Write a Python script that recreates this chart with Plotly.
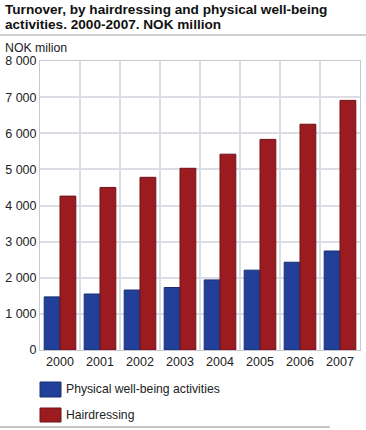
import plotly.graph_objects as go

years = ["2000", "2001", "2002", "2003", "2004", "2005", "2006", "2007"]
physical = [1470, 1550, 1660, 1730, 1940, 2210, 2430, 2740]
hairdressing = [4260, 4500, 4780, 5030, 5420, 5830, 6250, 6910]
y_ticks = [0, 1000, 2000, 3000, 4000, 5000, 6000, 7000, 8000]
y_labels = ["0", "1 000", "2 000", "3 000", "4 000", "5 000", "6 000", "7 000", "8 000"]
series_names = ["Physical well-being activities", "Hairdressing"]

BLUE = "#22409a"
RED = "#9c1b20"
BLUE_EDGE = "#1a2f6e"
RED_EDGE = "#6e1216"
FONT = "Liberation Sans, Arial, sans-serif"

W, H = 366, 430
ML, MR, MT, MB = 40, 6, 61, 80
PW, PH = W - ML - MR, H - MT - MB


def px(x):
    return (x - ML) / PW


def py(y):
    return (H - MB - y) / PH


fig = go.Figure()
fig.add_bar(x=years, y=physical, name=series_names[0],
            marker=dict(color=BLUE, line=dict(color=BLUE_EDGE, width=1)))
fig.add_bar(x=years, y=hairdressing, name=series_names[1],
            marker=dict(color=RED, line=dict(color=RED_EDGE, width=1)))

annotations = [
    dict(text="<b>Turnover, by hairdressing and physical well-being</b>",
         x=px(3), y=py(9.5), xanchor="left", yanchor="middle",
         font=dict(size=13.6, color="#111")),
    dict(text="<b>activities. 2000-2007. NOK million</b>",
         x=px(3), y=py(24.5), xanchor="left", yanchor="middle",
         font=dict(size=13.6, color="#111")),
    dict(text="NOK milion", x=px(3), y=py(47.5), xanchor="left", yanchor="middle",
         font=dict(size=12.3, color="#222")),
]
shapes = [
    dict(type="line", x0=px(0), x1=px(366), y0=py(35), y1=py(35),
         line=dict(color="#a0a0a0", width=1)),
    dict(type="line", x0=px(0), x1=px(330), y0=py(427), y1=py(427),
         line=dict(color="#b0b0b0", width=1.5)),
]
# manual legend
legend_rows = [(382, 397, BLUE, BLUE_EDGE), (408, 422, RED, RED_EDGE)]
for name, (y0, y1, c, e) in zip(series_names, legend_rows):
    shapes.append(dict(type="rect", x0=px(40), x1=px(61), y0=py(y0), y1=py(y1),
                       fillcolor=c, line=dict(color=e, width=1)))
    annotations.append(dict(text=name, x=px(64), y=py((y0 + y1) / 2 - 0.5),
                            xanchor="left", yanchor="middle",
                            font=dict(size=12.2, color="#222")))
for a in annotations:
    a.update(xref="paper", yref="paper", showarrow=False, align="left")
for s in shapes:
    s.update(xref="paper", yref="paper")

fig.update_layout(
    width=W, height=H,
    margin=dict(l=ML, r=MR, t=MT, b=MB, autoexpand=False),
    paper_bgcolor="white", plot_bgcolor="white",
    font=dict(family=FONT, size=12, color="#222"),
    barmode="group", bargap=0.21, bargroupgap=0,
    showlegend=False,
    xaxis=dict(type="category", tickson="boundaries", showgrid=True,
               gridcolor="#dcdce4", gridwidth=1.5, ticks="", showline=True,
               linecolor="#c8c8d0", mirror=True, tickfont=dict(size=12.5)),
    yaxis=dict(range=[0, 8000], tickvals=y_ticks, ticktext=y_labels,
               showgrid=True, gridcolor="#dcdce4", gridwidth=1.5,
               showline=True, linecolor="#c8c8d0", mirror=True,
               zeroline=False, ticks="", tickfont=dict(size=12.5)),
    annotations=annotations,
    shapes=shapes,
)

fig.write_html("out.html", config={"displayModeBar": False},
               post_script="document.body.style.margin='0';document.body.style.overflow='hidden';")
